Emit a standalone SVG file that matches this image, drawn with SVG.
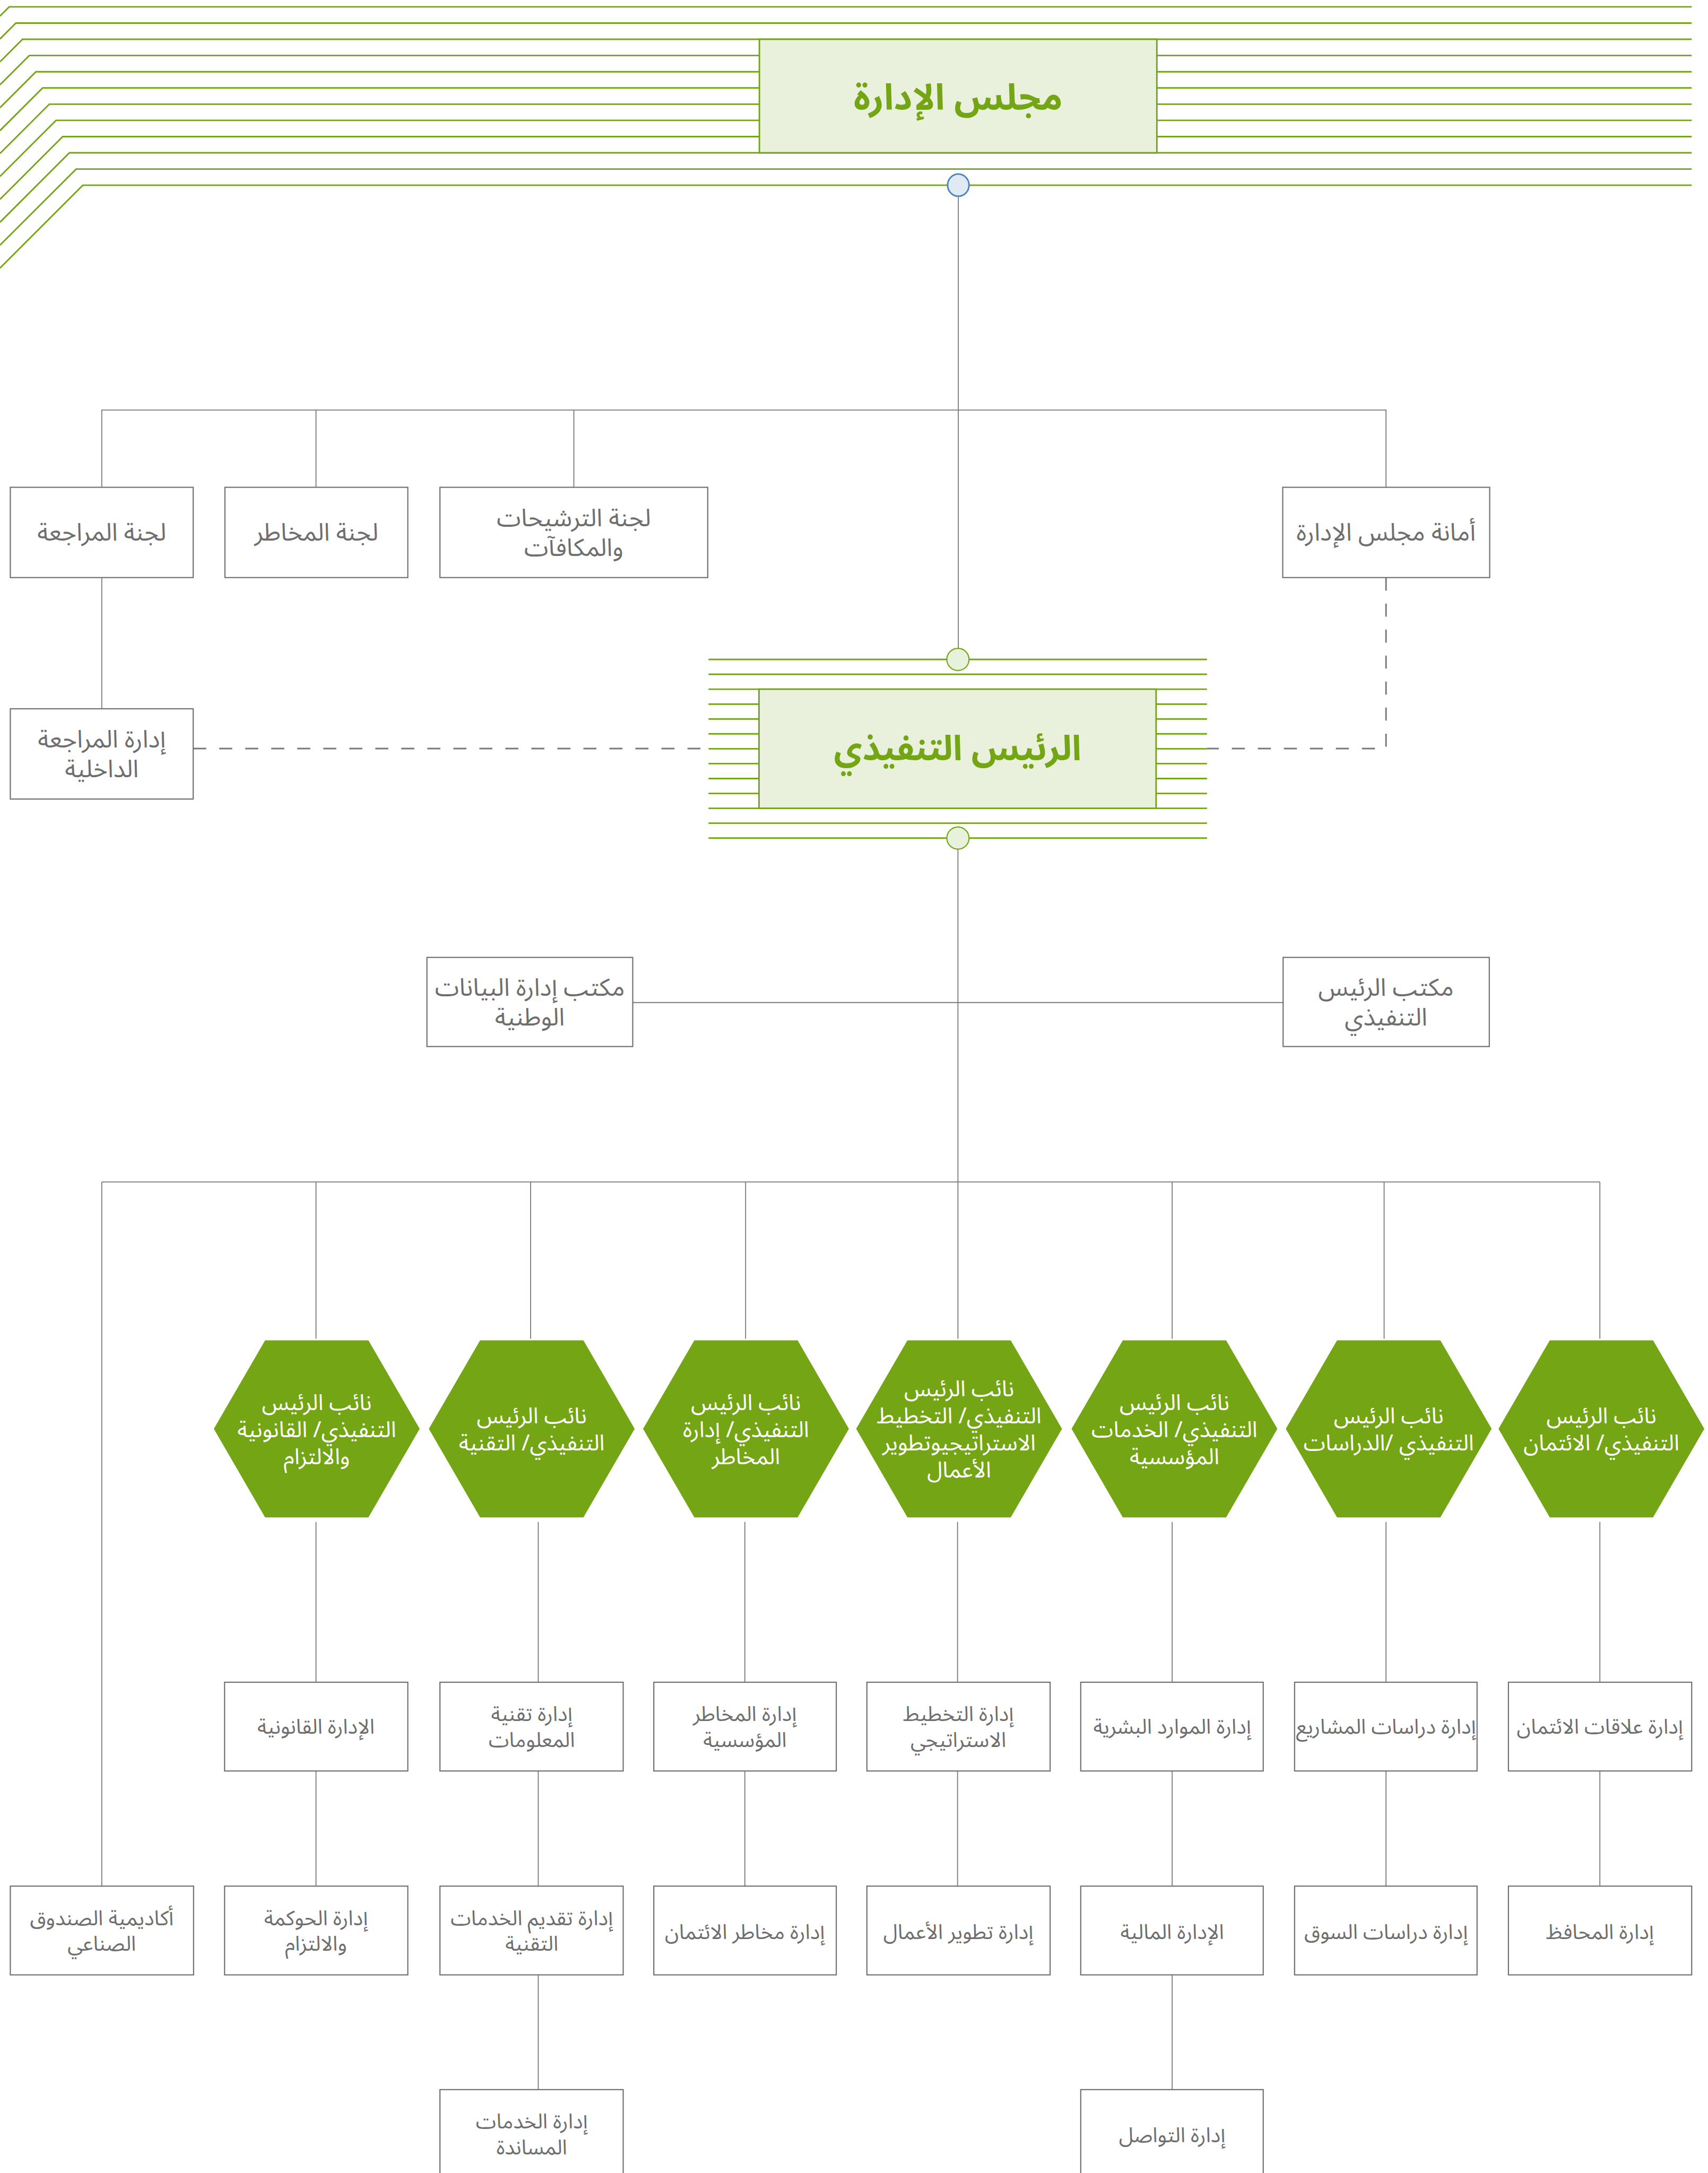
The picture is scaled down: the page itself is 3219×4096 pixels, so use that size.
<svg xmlns="http://www.w3.org/2000/svg" width="3219" height="4096" viewBox="0 0 3219 4096">
<style>
.g{stroke:#74a515;stroke-width:4;fill:none}
.c{stroke:#7a7a7a;stroke-width:2.5;fill:none}
.d{stroke:#777777;stroke-width:4;fill:none;stroke-dasharray:34 34}
.box{fill:#ffffff;stroke:#707070;stroke-width:3}
.main{fill:#e9f1dc;stroke:#74a515;stroke-width:4}
.hex{fill:#74a515;stroke:none}
.t{font-family:"Noto Sans Arabic","Noto Sans","DejaVu Sans",sans-serif;fill:#6e6e6e;text-anchor:middle;direction:rtl}
.t1{font-size:64px}
.t2{font-size:54px}
.th{font-family:"Noto Sans Arabic","Noto Sans","DejaVu Sans",sans-serif;fill:#ffffff;text-anchor:middle;direction:rtl;font-size:58px}
.tb{font-family:"Noto Sans Arabic","Noto Sans","DejaVu Sans",sans-serif;fill:#74a515;text-anchor:middle;direction:rtl;font-weight:bold}
</style>
<rect width="3219" height="4096" fill="#ffffff"/>
<g transform="scale(0.721)">
<g id="board-lines">
<path class="g" d="M0 41.9 L24 17.9 H4422"/>
<path class="g" d="M0 101.8 L41.5 60.3 H4422"/>
<path class="g" d="M0 161.7 L59 102.7 H4422"/>
<path class="g" d="M0 221.6 L76.5 145.1 H4422"/>
<path class="g" d="M0 281.5 L94 187.5 H4422"/>
<path class="g" d="M0 341.4 L111.5 229.9 H4422"/>
<path class="g" d="M0 401.3 L129 272.3 H4422"/>
<path class="g" d="M0 461.2 L146.5 314.7 H4422"/>
<path class="g" d="M0 521.1 L164 357.1 H4422"/>
<path class="g" d="M0 581 L181.5 399.5 H4422"/>
<path class="g" d="M0 640.9 L199 441.9 H4422"/>
<path class="g" d="M0 700.8 L216.5 484.3 H4422"/>
</g>
<g id="ceo-lines">
<path class="g" d="M1852 1724 H3155 M1852 1762.9 H3155 M1852 1801.8 H3155 M1852 1840.8 H3155 M1852 1879.7 H3155 M1852 1918.6 H3155 M1852 1957.5 H3155 M1852 1996.4 H3155 M1852 2035.4 H3155 M1852 2074.3 H3155 M1852 2113.2 H3155 M1852 2152.1 H3155 M1852 2191 H3155"/>
</g>
<g id="connectors">
<path class="c" d="M2505 513 V1695"/>
<path class="c" d="M266 1274 V1072 H3623 V1274 M826 1072 V1274 M1500 1072 V1274"/>
<path class="c" d="M266 1510 V1853"/>
<path class="c" d="M2504 2220 V3500"/>
<path class="c" d="M1654 2621 H3354"/>
<path class="c" d="M266 3090 H4182 M826 3090 V3500 M1387 3090 V3500 M1949 3090 V3500 M3064 3090 V3500 M3618 3090 V3500 M4182 3090 V3500 M266 3090 V4931"/>
<path class="c" d="M826 3979 V4398 M1407 3979 V4398 M1947 3979 V4398 M2503 3979 V4398 M3064 3979 V4398 M3623 3979 V4398 M4182 3979 V4398"/>
<path class="c" d="M826 4630 V4931 M1407 4630 V4931 M1947 4630 V4931 M2503 4630 V4931 M3064 4630 V4931 M3623 4630 V4931 M4182 4630 V4931"/>
<path class="c" d="M1407 5163 V5463 M3064 5163 V5463"/>
<path class="d" d="M505 1957 H1852"/>
<path class="d" d="M3623 1510 V1957 H3155"/>
</g>
<g id="board">
<rect class="main" x="1985" y="102.7" width="1039" height="296.8"/>
<text class="tb" x="2504.5" y="287" font-size="94px">مجلس الإدارة</text>
<ellipse cx="2505" cy="484" rx="28" ry="29" fill="#dfeaf5" stroke="#4a85bf" stroke-width="4"/>
</g>
<g id="ceo">
<rect class="main" x="1984" y="1801.8" width="1038" height="311.4" stroke-width="3"/>
<text class="tb" x="2503" y="1988" font-size="91px">الرئيس التنفيذي</text>
<circle cx="2504" cy="1724" r="29" fill="#e8f1dc" stroke="#74a515" stroke-width="3"/>
<circle cx="2504" cy="2191" r="29" fill="#e8f1dc" stroke="#74a515" stroke-width="3"/>
</g>
<g id="audit-committee"><rect class="box" x="27" y="1274" width="478" height="236"/><text class="t t1" x="266" y="1414">لجنة المراجعة</text></g>
<g id="risk-committee"><rect class="box" x="588" y="1274" width="478" height="236"/><text class="t t1" x="827" y="1414">لجنة المخاطر</text></g>
<g id="nomination-committee"><rect class="box" x="1150" y="1274" width="700" height="236"/><text class="t t1" x="1500" y="1376">لجنة الترشيحات</text><text class="t t1" x="1500" y="1454">والمكافآت</text></g>
<g id="board-secretariat"><rect class="box" x="3353" y="1274" width="541" height="236"/><text class="t t1" x="3623" y="1414">أمانة مجلس الإدارة</text></g>
<g id="internal-audit"><rect class="box" x="27" y="1853" width="478" height="236"/><text class="t t1" x="266" y="1954">إدارة المراجعة</text><text class="t t1" x="266" y="2032">الداخلية</text></g>
<g id="data-office"><rect class="box" x="1116" y="2503" width="538" height="233"/><text class="t t1" x="1385" y="2603">مكتب إدارة البيانات</text><text class="t t1" x="1385" y="2681">الوطنية</text></g>
<g id="ceo-office"><rect class="box" x="3354" y="2503" width="539" height="233"/><text class="t t1" x="3623" y="2603">مكتب الرئيس</text><text class="t t1" x="3623" y="2681">التنفيذي</text></g>
<g id="vp-legal"><polygon class="hex" points="693,3504 963,3504 1097,3735.5 963,3967 693,3967 559,3735.5"/><text class="th" x="828" y="3686">نائب الرئيس</text><text class="th" x="828" y="3757">التنفيذي/ القانونية</text><text class="th" x="828" y="3828">والالتزام</text></g>
<g id="vp-tech"><polygon class="hex" points="1255,3504 1525,3504 1659,3735.5 1525,3967 1255,3967 1121,3735.5"/><text class="th" x="1390" y="3721">نائب الرئيس</text><text class="th" x="1390" y="3792">التنفيذي/ التقنية</text></g>
<g id="vp-risk"><polygon class="hex" points="1815,3504 2085,3504 2219,3735.5 2085,3967 1815,3967 1681,3735.5"/><text class="th" x="1950" y="3686">نائب الرئيس</text><text class="th" x="1950" y="3757">التنفيذي/ إدارة</text><text class="th" x="1950" y="3828">المخاطر</text></g>
<g id="vp-strategy"><polygon class="hex" points="2372,3504 2642,3504 2776,3735.5 2642,3967 2372,3967 2238,3735.5"/><text class="th" x="2507" y="3650">نائب الرئيس</text><text class="th" x="2507" y="3721">التنفيذي/ التخطيط</text><text class="th" x="2507" y="3792">الاستراتيجيوتطوير</text><text class="th" x="2507" y="3863">الأعمال</text></g>
<g id="vp-corporate"><polygon class="hex" points="2935,3504 3205,3504 3339,3735.5 3205,3967 2935,3967 2801,3735.5"/><text class="th" x="3070" y="3686">نائب الرئيس</text><text class="th" x="3070" y="3757">التنفيذي/ الخدمات</text><text class="th" x="3070" y="3828">المؤسسية</text></g>
<g id="vp-studies"><polygon class="hex" points="3495,3504 3765,3504 3899,3735.5 3765,3967 3495,3967 3361,3735.5"/><text class="th" x="3630" y="3721">نائب الرئيس</text><text class="th" x="3630" y="3792">التنفيذي /الدراسات</text></g>
<g id="vp-credit"><polygon class="hex" points="4051,3504 4321,3504 4455,3735.5 4321,3967 4051,3967 3917,3735.5"/><text class="th" x="4186" y="3721">نائب الرئيس</text><text class="th" x="4186" y="3792">التنفيذي/ الائتمان</text></g>
<g id="legal-dept"><rect class="box" x="587" y="4398" width="479" height="232"/><text class="t t2" x="826" y="4532">الإدارة القانونية</text></g>
<g id="it-dept"><rect class="box" x="1150" y="4398" width="479" height="232"/><text class="t t2" x="1390" y="4500">إدارة تقنية</text><text class="t t2" x="1390" y="4567">المعلومات</text></g>
<g id="erm-dept"><rect class="box" x="1709" y="4398" width="477" height="232"/><text class="t t2" x="1947" y="4500">إدارة المخاطر</text><text class="t t2" x="1947" y="4567">المؤسسية</text></g>
<g id="strategy-dept"><rect class="box" x="2266" y="4398" width="479" height="232"/><text class="t t2" x="2505" y="4500">إدارة التخطيط</text><text class="t t2" x="2505" y="4567">الاستراتيجي</text></g>
<g id="hr-dept"><rect class="box" x="2825" y="4398" width="477" height="232"/><text class="t t2" x="3064" y="4532">إدارة الموارد البشرية</text></g>
<g id="projects-dept"><rect class="box" x="3384" y="4398" width="477" height="232"/><text class="t t2" x="3623" y="4532">إدارة دراسات المشاريع</text></g>
<g id="credit-rel-dept"><rect class="box" x="3943" y="4398" width="479" height="232"/><text class="t t2" x="4182" y="4532">إدارة علاقات الائتمان</text></g>
<g id="academy"><rect class="box" x="27" y="4931" width="479" height="232"/><text class="t t2" x="266" y="5033">أكاديمية الصندوق</text><text class="t t2" x="266" y="5100">الصناعي</text></g>
<g id="governance-dept"><rect class="box" x="587" y="4931" width="479" height="232"/><text class="t t2" x="826" y="5033">إدارة الحوكمة</text><text class="t t2" x="826" y="5100">والالتزام</text></g>
<g id="tech-services-dept"><rect class="box" x="1150" y="4931" width="479" height="232"/><text class="t t2" x="1390" y="5033">إدارة تقديم الخدمات</text><text class="t t2" x="1390" y="5100">التقنية</text></g>
<g id="credit-risk-dept"><rect class="box" x="1709" y="4931" width="477" height="232"/><text class="t t2" x="1947" y="5070">إدارة مخاطر الائتمان</text></g>
<g id="bizdev-dept"><rect class="box" x="2266" y="4931" width="479" height="232"/><text class="t t2" x="2505" y="5070">إدارة تطوير الأعمال</text></g>
<g id="finance-dept"><rect class="box" x="2825" y="4931" width="477" height="232"/><text class="t t2" x="3064" y="5070">الإدارة المالية</text></g>
<g id="market-dept"><rect class="box" x="3384" y="4931" width="477" height="232"/><text class="t t2" x="3623" y="5070">إدارة دراسات السوق</text></g>
<g id="portfolio-dept"><rect class="box" x="3943" y="4931" width="479" height="232"/><text class="t t2" x="4182" y="5070">إدارة المحافظ</text></g>
<g id="support-dept"><rect class="box" x="1150" y="5463" width="479" height="232"/><text class="t t2" x="1390" y="5565">إدارة الخدمات</text><text class="t t2" x="1390" y="5632">المساندة</text></g>
<g id="comms-dept"><rect class="box" x="2825" y="5463" width="477" height="232"/><text class="t t2" x="3064" y="5600">إدارة التواصل</text></g>
</g>
</svg>
